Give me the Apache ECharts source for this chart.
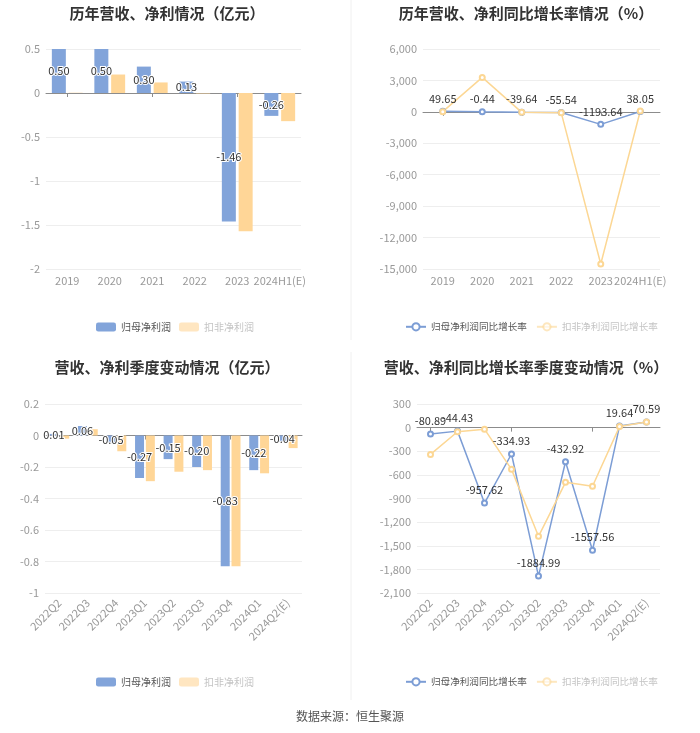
<!DOCTYPE html>
<html>
<head>
<meta charset="utf-8">
<script src="https://cdn.jsdelivr.net/npm/echarts@6/dist/echarts.min.js"></script>
<style>
html,body{margin:0;padding:0;background:#fff;}
#main{width:700px;height:733px;}
</style>
</head>
<body>
<div id="main"></div>
<script>
// ---- data ----
const yearCats = ['2019', '2020', '2021', '2022', '2023', '2024H1(E)'];
const yearNetProfit = [0.50, 0.50, 0.30, 0.13, -1.46, -0.26];
const yearDeductedProfit = [0.003, 0.21, 0.12, -0.005, -1.57, -0.32];
const yearNetGrowth = [49.65, -0.44, -39.64, -55.54, -1193.64, 38.05];
const yearDeductedGrowth = [20, 3290, -45, -95, -14520, 79];

const quarterCats = ['2022Q2', '2022Q3', '2022Q4', '2023Q1', '2023Q2', '2023Q3', '2023Q4', '2024Q1', '2024Q2(E)'];
const quarterNetProfit = [0.01, 0.06, -0.05, -0.27, -0.15, -0.20, -0.83, -0.22, -0.04];
const quarterDeductedProfit = [-0.02, 0.04, -0.10, -0.29, -0.23, -0.22, -0.83, -0.24, -0.08];
const quarterNetGrowth = [-80.89, -44.43, -957.62, -334.93, -1884.99, -432.92, -1557.56, 19.64, 70.59];
const quarterDeductedGrowth = [-340, -52, -20, -530, -1380, -695, -745, 13, 71];

const titles = ['历年营收、净利情况（亿元）', '历年营收、净利同比增长率情况（%）', '营收、净利季度变动情况（亿元）', '营收、净利同比增长率季度变动情况（%）'];
const barNames = ['归母净利润', '扣非净利润'];
const lineNames = ['归母净利润同比增长率', '扣非净利润同比增长率'];
const sourceText = '数据来源：恒生聚源';

// ---- styles ----
const FONT = '"Noto Sans CJK SC", "Noto Sans", sans-serif';
const BLUE = '#82a4da';
const ORANGE = '#ffd697';
const LBLUE = '#7c9dd5';
const LORANGE = '#fcd794';
const AXIS = '#8c8c8c';

const grids = [
  {left: 46, top: 49, width: 255, height: 220},
  {left: 423, top: 49, width: 237, height: 220},
  {left: 45, top: 404, width: 257, height: 189},
  {left: 417, top: 404, width: 243, height: 189}
];

function thousands(v) {
  return Number(v).toLocaleString('en-US');
}

const xAxes = [];
const yAxes = [];
const yCfg = [
  {min: -2, max: 0.5, interval: 0.5, fmt: v => String(v)},
  {min: -15000, max: 6000, interval: 3000, fmt: thousands},
  {min: -1, max: 0.2, interval: 0.2, fmt: v => String(Math.round(v * 10) / 10)},
  {min: -2100, max: 300, interval: 300, fmt: thousands}
];
[yearCats, yearCats, quarterCats, quarterCats].forEach((cats, i) => {
  const rot = i >= 2 ? 45 : 0;
  // label axis at bottom
  xAxes.push({
    type: 'category', gridIndex: i, data: cats, position: 'bottom',
    axisLine: {show: false, onZero: false}, axisTick: {show: false},
    axisLabel: {color: '#999', fontSize: 11, fontFamily: FONT, margin: rot ? 8 : 6, rotate: rot, interval: 0}
  });
  // zero line axis
  xAxes.push({
    type: 'category', gridIndex: i, data: cats, position: 'bottom',
    axisLine: {show: true, onZero: true, lineStyle: {color: AXIS, width: 1}},
    axisTick: {show: true, alignWithLabel: true, length: 4, lineStyle: {color: AXIS}},
    axisLabel: {show: false}
  });
  const c = yCfg[i];
  yAxes.push({
    type: 'value', gridIndex: i, min: c.min, max: c.max, interval: c.interval,
    axisLine: {show: false}, axisTick: {show: false},
    splitLine: {lineStyle: {color: '#eeeeee'}},
    axisLabel: {color: '#999', fontSize: 11, fontFamily: FONT, margin: 6, formatter: c.fmt}
  });
});

const barLabel = {
  show: true, position: 'inside', color: '#333', fontSize: 11, fontFamily: FONT,
  textBorderColor: '#fff', textBorderWidth: 2,
  formatter: p => Number(p.value).toFixed(2)
};
const lineLabel = {
  show: true, position: 'top', color: '#333', fontSize: 11, fontFamily: FONT, distance: 4,
  formatter: p => Number(p.value).toFixed(2)
};

function barSeries(name, data, idx, color, width, withLabel) {
  return {
    name: name, type: 'bar', xAxisIndex: idx * 2, yAxisIndex: idx, data: data,
    barWidth: width, barGap: '20%', itemStyle: {color: color},
    label: withLabel ? barLabel : {show: false}
  };
}
function lineSeries(name, data, idx, color, withLabel) {
  return {
    name: name, type: 'line', xAxisIndex: idx * 2, yAxisIndex: idx, data: data,
    symbol: 'emptyCircle', symbolSize: 5, showAllSymbol: true,
    lineStyle: {color: color, width: 1.5}, itemStyle: {color: color, borderWidth: 1.5},
    label: withLabel ? lineLabel : {show: false}
  };
}

const series = [
  barSeries(barNames[0], yearNetProfit, 0, BLUE, 14, true),
  barSeries(barNames[1], yearDeductedProfit, 0, ORANGE, 14, false),
  lineSeries(lineNames[0], yearNetGrowth, 1, LBLUE, true),
  lineSeries(lineNames[1], yearDeductedGrowth, 1, LORANGE, false),
  barSeries(barNames[0], quarterNetProfit, 2, BLUE, 9, true),
  barSeries(barNames[1], quarterDeductedProfit, 2, ORANGE, 9, false),
  lineSeries(lineNames[0], quarterNetGrowth, 3, LBLUE, true),
  lineSeries(lineNames[1], quarterDeductedGrowth, 3, LORANGE, false)
];

function barLegend(top) {
  return {
    left: 91, top: top, itemWidth: 20, itemHeight: 9, itemGap: 8, icon: 'roundRect',
    textStyle: {fontSize: 10, fontFamily: FONT},
    data: [
      {name: barNames[0], textStyle: {color: '#555'}},
      {name: barNames[1], textStyle: {color: '#c4c4c4'}, itemStyle: {opacity: 0.6}}
    ]
  };
}
function lineLegend(top) {
  return {
    left: 400, top: top, itemWidth: 20, itemHeight: 9, itemGap: 9,
    textStyle: {fontSize: 9.6, fontFamily: FONT},
    data: [
      {name: lineNames[0], textStyle: {color: '#555'}},
      {name: lineNames[1], textStyle: {color: '#c4c4c4'}, itemStyle: {opacity: 0.6}, lineStyle: {opacity: 0.6}}
    ]
  };
}

const titleGraphics = [
  {x: 167, y: 13, t: titles[0]},
  {x: 526, y: 13, t: titles[1]},
  {x: 167, y: 367, t: titles[2]},
  {x: 526, y: 367, t: titles[3]}
].map(o => ({
  type: 'text', x: o.x, y: o.y, silent: true,
  style: {text: o.t, fill: '#333', font: 'bold 15px ' + FONT, textAlign: 'center', textVerticalAlign: 'middle'}
}));

const option = {
  animation: false,
  backgroundColor: '#fff',
  textStyle: {fontFamily: FONT},
  grid: grids,
  xAxis: xAxes,
  yAxis: yAxes,
  legend: [barLegend(317), lineLegend(317), barLegend(672), lineLegend(672)],
  series: series,
  graphic: titleGraphics.concat([
    {type: 'line', silent: true, shape: {x1: 351, y1: 0, x2: 351, y2: 340}, style: {stroke: '#f0f0f0', lineWidth: 1}},
    {type: 'line', silent: true, shape: {x1: 351, y1: 352, x2: 351, y2: 700}, style: {stroke: '#f0f0f0', lineWidth: 1}},
    {type: 'text', x: 350, y: 716, silent: true,
     style: {text: sourceText, fill: '#555', font: '12px ' + FONT, textAlign: 'center', textVerticalAlign: 'middle'}}
  ])
};

const chart = echarts.init(document.getElementById('main'), null, {renderer: 'canvas'});
chart.setOption(option);
</script>
</body>
</html>
